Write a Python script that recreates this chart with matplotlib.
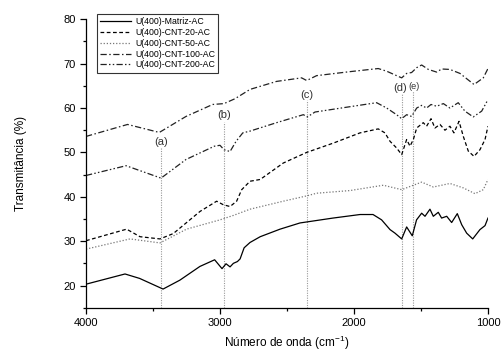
import numpy as np
import matplotlib
matplotlib.use("Agg")
import matplotlib.pyplot as plt
from matplotlib.ticker import MultipleLocator

plt.rcParams['font.family'] = ['Liberation Sans', 'DejaVu Sans']
plt.rcParams['mathtext.default'] = 'regular'

# FTIR spectra, wavenumber (cm-1) vs transmittance (%)
wn_matriz = [4000, 3709, 3600, 3425, 3300, 3150, 3040, 2985, 2955, 2925, 2900, 2870, 2850,
             2820, 2776, 2700, 2552, 2403, 2157, 1955, 1858, 1794, 1731, 1694, 1644, 1607,
             1565, 1533, 1495, 1470, 1433, 1408, 1371, 1346, 1308, 1271, 1229, 1196, 1159,
             1114, 1060, 1022, 1000]
t_matriz = [20.3, 22.6, 21.6, 19.2, 21.2, 24.3, 25.8, 23.8, 24.9, 24.2, 25.0, 25.4, 26.0,
            28.5, 29.7, 31.0, 32.7, 34.1, 35.2, 36.0, 36.0, 34.8, 32.6, 31.8, 30.5, 33.2,
            31.2, 34.8, 36.3, 35.6, 37.2, 35.6, 36.5, 35.2, 35.6, 34.2, 36.2, 33.7, 31.8,
            30.5, 32.6, 33.5, 35.2]

wn_cnt20 = [4000, 3697, 3597, 3448, 3349, 3149, 3025, 2975, 2925, 2876, 2838, 2776, 2700,
            2528, 2353, 2154, 1955, 1819, 1769, 1731, 1682, 1644, 1607, 1582, 1557, 1532,
            1483, 1458, 1425, 1396, 1358, 1321, 1284, 1254, 1216, 1184, 1147, 1104, 1060,
            1022, 1000]
t_cnt20 = [30.1, 32.7, 31.0, 30.5, 31.7, 36.7, 39.0, 38.2, 37.8, 39.0, 41.6, 43.5, 43.9,
           47.6, 50.0, 52.1, 54.4, 55.3, 54.4, 52.5, 51.0, 49.5, 52.9, 51.4, 52.9, 55.5,
           56.7, 55.9, 57.6, 55.5, 56.3, 55.0, 55.9, 54.4, 57.0, 53.6, 50.3, 49.1, 50.6,
           52.9, 55.9]

wn_cnt50 = [4000, 3672, 3448, 3250, 3000, 2900, 2776, 2528, 2353, 2279, 2030, 1781, 1644,
            1557, 1495, 1408, 1284, 1184, 1097, 1035, 1000]
t_cnt50 = [28.2, 30.5, 29.6, 32.7, 34.8, 35.8, 37.2, 39.0, 40.2, 40.8, 41.4, 42.6, 41.6,
           42.6, 43.3, 42.2, 43.0, 42.0, 40.7, 41.6, 43.9]

wn_cnt100 = [4000, 3690, 3453, 3254, 3055, 2970, 2888, 2776, 2578, 2391, 2353, 2279, 2030,
             1819, 1756, 1682, 1644, 1607, 1570, 1532, 1495, 1445, 1383, 1346, 1284, 1209,
             1104, 1035, 1000]
t_cnt100 = [53.6, 56.3, 54.5, 58.1, 60.8, 61.0, 62.1, 64.2, 66.0, 66.8, 66.2, 67.3, 68.2,
            68.9, 68.3, 67.3, 66.8, 67.8, 68.0, 69.1, 69.7, 68.7, 68.1, 68.8, 68.7, 67.8,
            65.3, 66.8, 68.9]

wn_cnt200 = [4000, 3701, 3440, 3254, 3042, 3000, 2970, 2925, 2880, 2830, 2776, 2578, 2378,
             2348, 2291, 2030, 1831, 1756, 1682, 1644, 1607, 1570, 1532, 1495, 1458, 1425,
             1383, 1333, 1284, 1222, 1172, 1110, 1047, 1000]
t_cnt200 = [44.8, 47.0, 44.2, 48.4, 51.4, 51.6, 50.6, 50.2, 52.5, 54.4, 54.8, 56.7, 58.5,
            58.0, 59.1, 60.3, 61.2, 60.0, 58.5, 57.6, 58.5, 58.1, 60.0, 60.6, 60.0, 60.8,
            60.4, 61.0, 60.0, 61.2, 59.3, 58.0, 59.3, 61.9]

# band assignments
band_labels = ['(a)', '(b)', '(c)', '(d)', '(e)']
band_pos = [3440, 2970, 2350, 1640, 1560]
band_top = [51.2, 56.9, 61.9, 63.4, 63.8]
label_x = [3440, 2970, 2350, 1655, 1550]
label_y = [52.3, 58.5, 63.0, 64.6, 64.9]
label_size = [8, 8, 8, 8, 6.6]

fig = plt.figure(figsize=(5.01, 3.54), dpi=100)
ax = fig.add_axes([0.1717, 0.1308, 0.8023, 0.8147])

for x, top in zip(band_pos, band_top):
    ax.plot([x, x], [15, top], color='#999999', lw=0.8, ls=(0, (1, 1.2)), zorder=1)
for lab, x, y, fs in zip(band_labels, label_x, label_y, label_size):
    ax.text(x, y, lab, ha='center', va='center', fontsize=fs, color='#333333')

ax.plot(wn_matriz, t_matriz, color='black', lw=0.9, label='U(400)-Matriz-AC')
ax.plot(wn_cnt20, t_cnt20, color='black', lw=0.9, ls=(0, (3, 2)), label='U(400)-CNT-20-AC')
ax.plot(wn_cnt50, t_cnt50, color='#777777', lw=0.9, ls=(0, (1, 1.5)), label='U(400)-CNT-50-AC')
ax.plot(wn_cnt100, t_cnt100, color='#222222', lw=0.9, ls=(0, (5, 2, 1.2, 2)),
        label='U(400)-CNT-100-AC')
ax.plot(wn_cnt200, t_cnt200, color='#222222', lw=0.9, ls=(0, (5, 1.8, 1.2, 1.8, 1.2, 1.8)),
        label='U(400)-CNT-200-AC')

ax.set_xlim(4000, 1000)
ax.set_ylim(15, 80)
ax.xaxis.set_major_locator(MultipleLocator(1000))
ax.xaxis.set_minor_locator(MultipleLocator(500))
ax.yaxis.set_minor_locator(MultipleLocator(5))
ax.yaxis.set_ticks(np.arange(20, 81, 10))
ax.tick_params(which='major', length=4, width=0.9, labelsize=8)
ax.tick_params(which='minor', length=2.5, width=0.9)
for s in ['top', 'right']:
    ax.spines[s].set_visible(False)
for s in ['left', 'bottom']:
    ax.spines[s].set_linewidth(0.9)

ax.set_xlabel('Número de onda (cm$^{-1}$)', fontsize=8.5, labelpad=4)
ax.set_ylabel('Transmitância (%)', fontsize=8.5, labelpad=26)

leg = ax.legend(loc='upper left', bbox_to_anchor=(0.027, 1.017), fontsize=6.3,
                handlelength=3.6, handletextpad=0.4, labelspacing=0.2,
                borderpad=0.35, frameon=True, fancybox=False, borderaxespad=0)
leg.get_frame().set_edgecolor('black')
leg.get_frame().set_linewidth(0.8)

fig.savefig('out.png', dpi=100)
